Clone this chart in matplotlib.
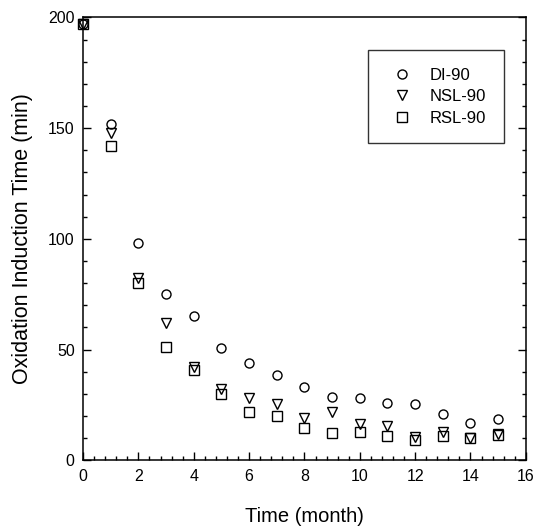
import matplotlib
matplotlib.use("Agg")
import matplotlib.pyplot as plt
from matplotlib.ticker import MultipleLocator

plt.rcParams['font.family'] = ['Liberation Sans', 'DejaVu Sans']

# oxidation induction time readings per month
months = list(range(16))
di_90 = [197, 152, 98, 75, 65, 50.5, 44, 38.7, 33, 28.6, 28.2, 26, 25.3, 20.8, 17, 18.8]
nsl_90 = [197, 148, 82.4, 62, 42, 32.4, 28, 25.3, 19.3, 21.6, 16.3, 15.4, 10.5, 12.8, 10.2, 12]
rsl_90 = [197, 142, 80, 51.2, 40.7, 29.8, 21.8, 19.9, 14.6, 12.5, 12.8, 10.8, 9, 10.8, 10.2, 11.3]

fig = plt.figure(figsize=(5.36, 5.29), dpi=100)
ax = fig.add_axes([0.155, 0.130, 0.826, 0.837])

style = dict(linestyle='none', markerfacecolor='none', markeredgecolor='black',
             markeredgewidth=1.0, markersize=6.5, clip_on=False)
ax.plot(months, di_90, marker='o', label='DI-90', **style)
ax.plot(months, nsl_90, marker='v', label='NSL-90', **style)
ax.plot(months, rsl_90, marker='s', label='RSL-90', **style)

ax.set_xlim(0, 16)
ax.set_ylim(0, 200)
ax.xaxis.set_major_locator(MultipleLocator(2))
ax.xaxis.set_minor_locator(MultipleLocator(0.4))
ax.yaxis.set_major_locator(MultipleLocator(50))
ax.yaxis.set_minor_locator(MultipleLocator(10))
ax.tick_params(which='both', direction='in', top=False, right=True, labelsize=11.5, width=1)
ax.tick_params(which='major', length=6, pad=6)
ax.tick_params(which='minor', length=3)
for s in ax.spines.values():
    s.set_linewidth(1.1)

ax.set_xlabel('Time (month)', fontsize=14.5)
ax.set_ylabel('Oxidation Induction Time (min)', fontsize=15.5)
ax.xaxis.set_label_coords(0.5, -0.105)
ax.yaxis.set_label_coords(-0.113, 0.5)

leg = ax.legend(loc='upper left', bbox_to_anchor=(367.5 / 536, 1 - 50 / 529),
                bbox_transform=fig.transFigure, fancybox=False, frameon=True,
                edgecolor='black', fontsize=12, handletextpad=0.7, handlelength=2.0,
                borderpad=1.05, labelspacing=0.4, borderaxespad=0)
leg.get_frame().set_linewidth(1.0)

fig.savefig('out.png', dpi=100)
